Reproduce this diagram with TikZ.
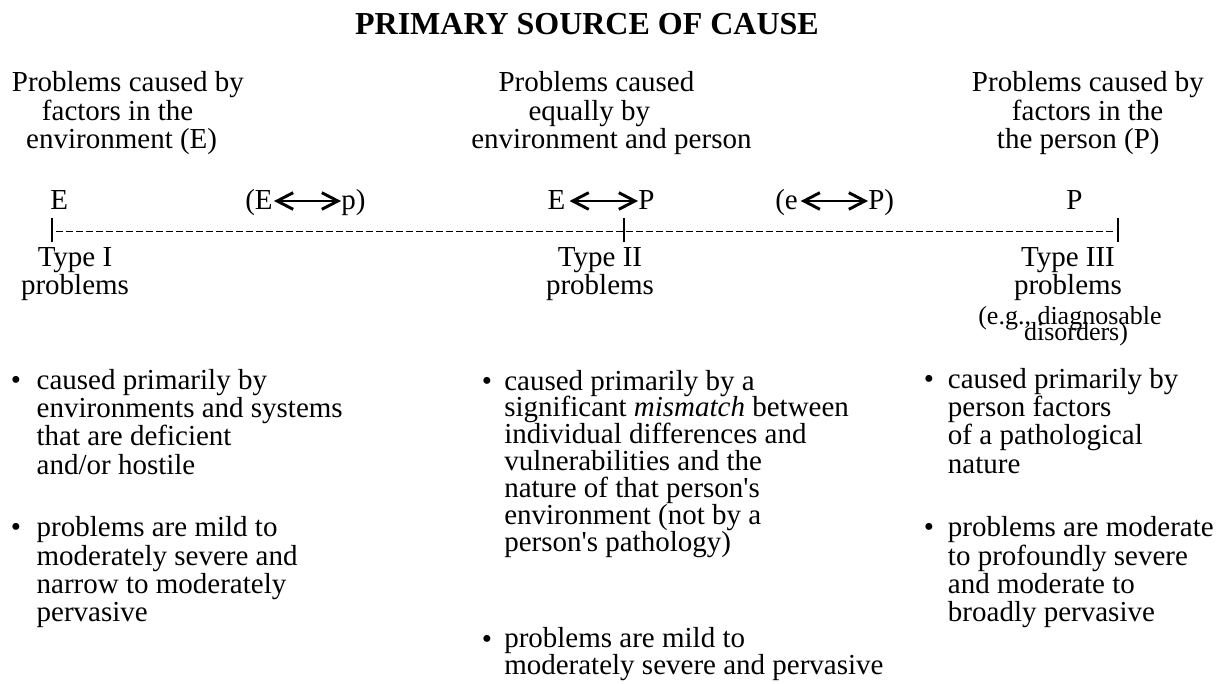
\documentclass[tikz,border=0pt]{standalone}
\usepackage{fontspec}
\setmainfont{Liberation Serif}
\usetikzlibrary{arrows.meta}

\tikzset{
  body/.style={font=\fontsize{21.75}{21.25}\selectfont, inner sep=0pt, anchor=base west, align=left},
  midbody/.style={body, font=\fontsize{21.75}{20.2}\selectfont},
  typelbl/.style={font=\fontsize{21.75}{21.25}\selectfont, inner sep=0pt, anchor=base, align=center},
  smalllbl/.style={font=\fontsize{19.5}{19.5}\selectfont, inner sep=0pt, anchor=base},
  barb/.tip={Straight Barb[length=12pt,width=12.5pt,line width=2.2pt]},
  dblarr/.style={line width=1.4pt, barb-barb},
  dashline/.style={line width=0.9pt, dash pattern=on 4.9pt off 2.6pt},
  tickline/.style={line width=0.9pt},
}

\begin{document}
\begin{tikzpicture}[x=0.75pt, y=-0.75pt]
    \useasboundingbox (0,0) rectangle (1225,684);

    % --- Titolo ---
    \node[font=\fontsize{24}{24}\selectfont\bfseries, inner sep=0pt, anchor=base] (title) at (587,35) {PRIMARY SOURCE OF CAUSE};

    % --- Intestazioni (y = linea di base dell'ultima riga) ---
    \node[body] (hdrE) at (11.7,148.4) {Problems caused by\\\hspace*{22.5pt}factors in the\\\hspace*{10.7pt}environment (E)};
    \node[body] (hdrEP) at (471,148.4) {\hspace*{20.5pt}Problems caused\\\hspace*{43pt}equally by\\environment and person};
    \node[body] (hdrP) at (971.7,148.4) {Problems caused by\\\hspace*{30pt}factors in the\\\hspace*{18.75pt}the person (P)};

    % --- Riga E / P ---
    \node[body] (eL) at (50,210) {E};
    \node[body] (eA) at (245,210) {(E};
    \node[body] (pA) at (341,210) {p)};
    \node[body] (eM) at (547.3,210) {E};
    \node[body] (pM) at (638,210) {P};
    \node[body] (eB) at (775,210) {(e};
    \node[body] (pB) at (868,210) {P)};
    \node[body] (pR) at (1066,210) {P};
    \draw[dblarr] ([xshift=0.8pt,yshift=6.75pt]eA.base east) -- ([yshift=6.75pt]pA.base west);
    \draw[dblarr] ([xshift=3pt,yshift=6.75pt]eM.base east) -- ([yshift=6.75pt]pM.base west);
    \draw[dblarr] ([xshift=2pt,yshift=6.75pt]eB.base east) -- ([yshift=6.75pt]pB.base west);

    % --- Linea tratteggiata ---
    \coordinate (t1) at (52,231.7);
    \coordinate (t2) at (624,231.7);
    \coordinate (t3) at (1118,231.7);
    \draw[dashline] ([xshift=3pt]t1) -- ([xshift=-3pt]t3);
    \draw[tickline] ([yshift=10.3pt]t1) -- ([yshift=-7.7pt]t1);
    \draw[tickline] ([yshift=10.3pt]t2) -- ([yshift=-7.7pt]t2);
    \draw[tickline] ([yshift=10.3pt]t3) -- ([yshift=-7.7pt]t3);

    % --- Tipi ---
    \node[typelbl] (typeI) at (75,295) {Type I\\problems};
    \node[typelbl] (typeII) at (600,295) {Type II\\problems};
    \node[typelbl] (typeIII) at (1068,295) {Type III\\problems};
    \node[smalllbl] (eg) at (1070,325) {(e.g., diagnosable};
    \node[smalllbl] (dis) at (1076,340) {disorders)};

    % --- Punti: colonna E ---
    \node[body] (bulE1) at (10.5,389) {•};
    \node[body] (txtE1) at (36.4,474) {caused primarily by\\environments and systems\\that are deficient\\and/or hostile};
    \node[body] (bulE2) at (10.5,536.7) {•};
    \node[body] (txtE2) at (36.4,621.7) {problems are mild to\\moderately severe and\\narrow to moderately\\pervasive};

    % --- Punti: colonna E-P ---
    \node[body] (bulM1) at (481.5,390) {•};
    \node[midbody] (txtM1) at (504,551.6) {caused primarily by a\\significant \textit{mismatch} between\\individual differences and\\vulnerabilities and the\\nature of that person\textquotesingle s\\environment (not by a\\person\textquotesingle s pathology)};
    \node[body] (bulM2) at (481.5,648) {•};
    \node[midbody] (txtM2) at (504,674.9) {problems are mild to\\moderately severe and pervasive};

    % --- Punti: colonna P ---
    \node[body] (bulP1) at (923.5,388.3) {•};
    \node[body] (txtP1) at (947.7,473.3) {caused primarily by\\person factors\\of a pathological\\nature};
    \node[body] (bulP2) at (923.5,536.7) {•};
    \node[body] (txtP2) at (947.7,621.7) {problems are moderate\\to profoundly severe\\and moderate to\\broadly pervasive};
\end{tikzpicture}
\end{document}
